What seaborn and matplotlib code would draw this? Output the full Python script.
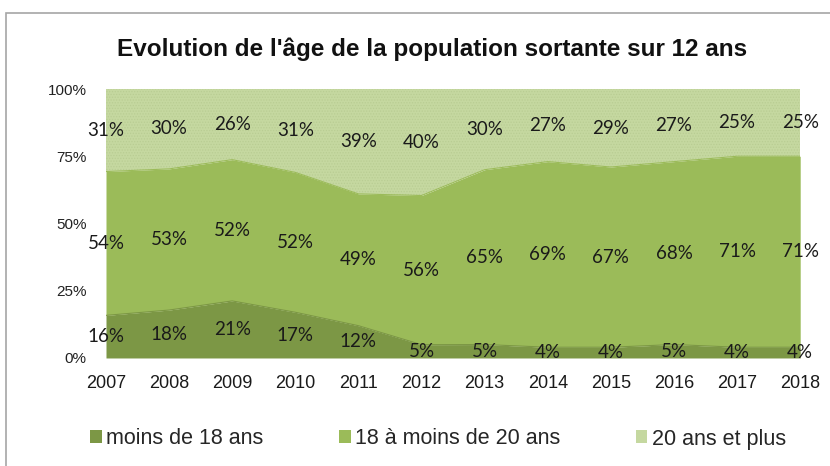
import matplotlib
matplotlib.use("Agg")
import matplotlib.pyplot as plt
from matplotlib.patches import Rectangle, Patch
import seaborn as sns
import numpy as np
import pandas as pd

years = [2007, 2008, 2009, 2010, 2011, 2012, 2013, 2014, 2015, 2016, 2017, 2018]
moins18 = [16, 18, 21, 17, 12, 5, 5, 4, 4, 5, 4, 4]
de18a20 = [54, 53, 52, 52, 49, 56, 65, 69, 67, 68, 71, 71]
plus20 = [31, 30, 26, 31, 39, 40, 30, 27, 29, 27, 25, 25]
series_names = ["moins de 18 ans", "18 à moins de 20 ans", "20 ans et plus"]
colors = ["#7C9745", "#9BBB59", "#C5D8A0"]
title = "Evolution de l'âge de la population sortante sur 12 ans"

sns.set_theme(style="white")
plt.rcParams["font.family"] = ["Liberation Sans", "DejaVu Sans"]
plt.rcParams["hatch.linewidth"] = 0.6

df = pd.DataFrame({"year": years, series_names[0]: moins18,
                   series_names[1]: de18a20, series_names[2]: plus20})
vals = df[series_names].to_numpy(dtype=float)
shares = vals / vals.sum(axis=1, keepdims=True) * 100

fig = plt.figure(figsize=(8.30, 4.66), dpi=100)
ax = fig.add_axes([0.1277, 0.2318, 0.8364, 0.5772])

polys = ax.stackplot(df["year"], shares.T, colors=colors, linewidth=0)
polys[2].set_hatch("......")
polys[2].set_edgecolor("#B9CD93")
polys[2].set_linewidth(0)

# boundaries through seaborn
cum = np.cumsum(shares, axis=1)
for i in range(2):
    sns.lineplot(x=df["year"], y=cum[:, i], ax=ax, color=colors[i], linewidth=0.8, legend=False)

ax.set_xlim(years[0], years[-1])
ax.set_ylim(0, 100)
ax.set_yticks([0, 25, 50, 75, 100])
ax.set_yticklabels(["0%", "25%", "50%", "75%", "100%"], fontsize=11, color="#222222")
ax.set_xticks(years)
ax.set_xticklabels([str(y) for y in years], fontsize=13, color="#1a1a1a")
ax.tick_params(axis="y", pad=14, length=0)
ax.tick_params(axis="x", pad=12, length=0)
ax.set_xlabel("")
ax.set_ylabel("")
for s in ax.spines.values():
    s.set_visible(False)

bottoms = np.hstack([np.zeros((len(years), 1)), cum[:, :-1]])
for j in range(3):
    for i, y in enumerate(years):
        yc = bottoms[i, j] + shares[i, j] / 2
        ax.text(y, yc, f"{int(vals[i, j])}%", ha="center", va="center",
                fontsize=13.5, color="#1a1a1a", family=["Lato", "DejaVu Sans"],
                clip_on=False)

fig.text(432 / 830, 1 - 49 / 466, title, ha="center", va="center",
         fontsize=17.5, fontweight="bold", color="#111111")

handles = [Patch(facecolor=c, edgecolor="none") for c in colors]
fig.legend(handles, series_names, loc="center", bbox_to_anchor=(438 / 830, 1 - 439 / 466),
           ncol=3, frameon=False, fontsize=15.5, handlelength=0.55, handleheight=0.55,
           handletextpad=0.2, columnspacing=3.5)

# outer chart border
fig.add_artist(Rectangle((6 / 830, -0.05), 1.2, 1 - 13 / 466 + 0.05, transform=fig.transFigure,
                         fill=False, edgecolor="#A6A6A6", linewidth=1.2))

fig.savefig("out.png", dpi=100)
